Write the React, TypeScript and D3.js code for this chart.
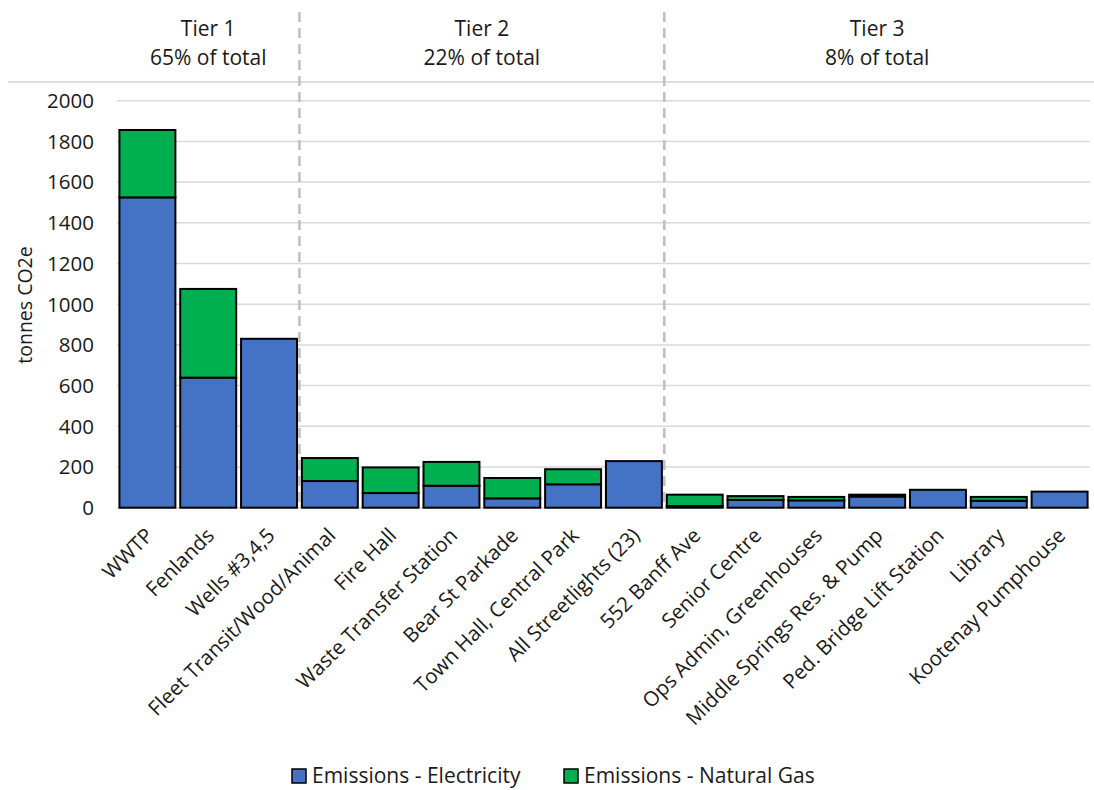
import React from "react";
import * as d3 from "d3";

const categories = [
  "WWTP", "Fenlands", "Wells #3,4,5", "Fleet Transit/Wood/Animal", "Fire Hall",
  "Waste Transfer Station", "Bear St Parkade", "Town Hall, Central Park",
  "All Streetlights (23)", "552 Banff Ave", "Senior Centre", "Ops Admin, Greenhouses",
  "Middle Springs Res. & Pump", "Ped. Bridge Lift Station", "Library", "Kootenay Pumphouse",
];
const electricity = [1525, 639, 830, 131, 72, 108, 46, 115, 229, 8, 38, 36, 55, 88, 34, 79];
const naturalGas = [331, 436, 0, 113, 126, 117, 100, 74, 0, 56, 19, 17, 9, 0, 19, 0];
const yTicks = [0, 200, 400, 600, 800, 1000, 1200, 1400, 1600, 1800, 2000];
const tiers = [
  { name: "Tier 1", share: "65% of total", from: 0, to: 3 },
  { name: "Tier 2", share: "22% of total", from: 3, to: 9 },
  { name: "Tier 3", share: "8% of total", from: 9, to: 16 },
];
const seriesNames = ["Emissions - Electricity", "Emissions - Natural Gas"];
const colors = ["#4472C4", "#00B050"];

const W = 1094, H = 790;
const left = 117, right = 1090, top = 100.7, bottom = 507.7;
const font = "'Open Sans', 'Liberation Sans', sans-serif";

export default function App() {
  const x = d3.scaleBand<string>().domain(categories).range([left, right]).paddingInner(0.08).paddingOuter(0.04);
  const y = d3.scaleLinear().domain([0, 2000]).range([bottom, top]);
  const step = x.step();
  const edge = (i: number) => left + i * step;
  const rows = categories.map((c, i) => ({ c, e: electricity[i], g: naturalGas[i] }));
  const stack = d3.stack<any>().keys(["e", "g"])(rows as any);

  return (
    <svg width={W} height={H} style={{ position: "absolute", left: 0, top: 0, background: "#fff" }} fontFamily={font}>
      <line x1={8} x2={W} y1={82} y2={82} stroke="#bfbfbf" strokeWidth={1.2} />
      {yTicks.map((t) => (
        <g key={t}>
          <line x1={left} x2={right} y1={y(t)} y2={y(t)} stroke="#d9d9d9" strokeWidth={1.5} />
          <text x={94} y={y(t)} dy="0.36em" textAnchor="end" fontSize={20.5} fill="#1a1a1a">{t}</text>
        </g>
      ))}
      <text transform={`translate(32,305) rotate(-90)`} textAnchor="middle" fontSize={19.5} fill="#1a1a1a">tonnes CO2e</text>
      {stack.map((layer, li) => (
        <g key={li}>
          {layer.map((d: any, i: number) =>
            d[1] - d[0] > 0 ? (
              <rect key={i} x={x(categories[i])} width={x.bandwidth()} y={y(d[1])} height={y(d[0]) - y(d[1])}
                fill={colors[li]} stroke="#000" strokeWidth={2} />
            ) : null
          )}
        </g>
      ))}
      {tiers.slice(1).map((t) => (
        <line key={t.name} x1={edge(t.from)} x2={edge(t.from)} y1={12} y2={bottom} stroke="#bfbfbf" strokeWidth={2.5} strokeDasharray="10,6" />
      ))}
      {tiers.map((t) => {
        const cx = (edge(t.from) + edge(t.to)) / 2;
        return (
          <g key={t.name}>
            <text x={cx} y={36} textAnchor="middle" fontSize={21} fill="#1a1a1a">{t.name}</text>
            <text x={cx} y={65} textAnchor="middle" fontSize={21} fill="#1a1a1a">{t.share}</text>
          </g>
        );
      })}
      {categories.map((c) => {
        const cx = (x(c) as number) + x.bandwidth() / 2 + 2;
        return (
          <text key={c} transform={`translate(${cx},${bottom + 24}) rotate(-45)`} textAnchor="end" dy="0.35em" fontSize={20.5} fill="#1a1a1a">{c}</text>
        );
      })}
      <g>
        <rect x={292} y={769} width={14} height={14} fill={colors[0]} stroke="#000" strokeWidth={1.5} />
        <text x={312} y={776} dy="0.35em" fontSize={21} fill="#1a1a1a">{seriesNames[0]}</text>
        <rect x={564} y={769} width={14} height={14} fill={colors[1]} stroke="#000" strokeWidth={1.5} />
        <text x={584} y={776} dy="0.35em" fontSize={21} fill="#1a1a1a">{seriesNames[1]}</text>
      </g>
    </svg>
  );
}
